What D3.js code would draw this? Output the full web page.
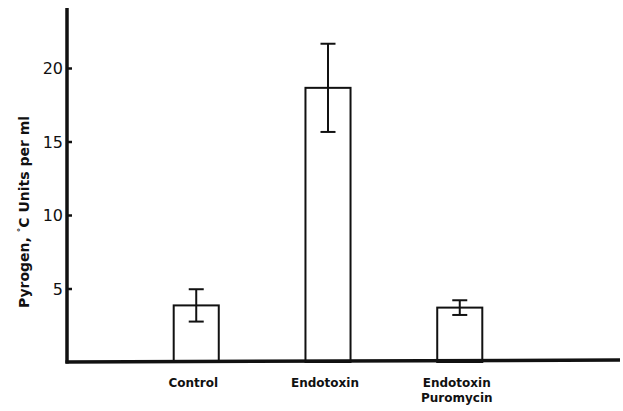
<!DOCTYPE html>
<html>
<head>
<meta charset="utf-8">
<style>
  body { margin: 0; background: #fff; }
  svg { display: block; }
  text { font-family: "DejaVu Sans", sans-serif; font-weight: bold; fill: #111; }
</style>
<script src="https://cdnjs.cloudflare.com/ajax/libs/d3/7.8.5/d3.min.js"></script>
</head>
<body>
<svg id="chart"></svg>
<script>
// values
let categories = ["Control", "Endotoxin", "Endotoxin\nPuromycin"]
let means = [3.85, 18.65, 3.7]
let errors = [1.1, 3.0, 0.5]
let yTicks = [5, 10, 15, 20]

let width = 623, height = 411
let svg = d3.select("#chart").attr("width", width).attr("height", height)

let x0 = 67, x1 = 620, yZero = 362

let y = d3.scaleLinear().domain([0, 20]).range([yZero, 68])
let x = d3.scaleBand().domain(categories).range([87, 569]).padding(0.658)

// bars
let bars = svg.append("g")
bars.selectAll("rect").data(means).enter().append("rect")
  .attr("x", (d, i) => x(categories[i]))
  .attr("y", d => y(d))
  .attr("width", x.bandwidth())
  .attr("height", d => yZero - y(d))
  .attr("fill", "#fff")
  .attr("stroke", "#111")
  .attr("stroke-width", 2)

// error bars
let capW = 15
let eb = svg.append("g").attr("stroke", "#111").attr("stroke-width", 2)
means.forEach((m, i) => {
  let cx = x(categories[i]) + x.bandwidth() / 2
  eb.append("line").attr("x1", cx).attr("x2", cx).attr("y1", y(m + errors[i])).attr("y2", y(m - errors[i]))
  eb.append("line").attr("x1", cx - capW / 2).attr("x2", cx + capW / 2).attr("y1", y(m + errors[i])).attr("y2", y(m + errors[i]))
  eb.append("line").attr("x1", cx - capW / 2).attr("x2", cx + capW / 2).attr("y1", y(m - errors[i])).attr("y2", y(m - errors[i]))
})

// y axis
let yAxis = d3.axisRight(y).tickValues(yTicks).tickSize(5).tickFormat(d3.format("d"))
let gy = svg.append("g").attr("transform", "translate(" + x0 + ",0)").call(yAxis)
gy.select(".domain").remove()
gy.selectAll(".tick line").attr("stroke", "#111").attr("stroke-width", 2.5)
gy.selectAll(".tick text")
  .attr("x", -4).attr("text-anchor", "end")
  .style("font-size", "16px").style("font-weight", "normal").attr("dy", "0.35em")

svg.append("line").attr("x1", x0).attr("x2", x0).attr("y1", 8).attr("y2", yZero + 1.5)
  .attr("stroke", "#111").attr("stroke-width", 3.5)

// x axis
svg.append("line").attr("x1", x0 - 1.5).attr("x2", x1).attr("y1", yZero).attr("y2", yZero - 2)
  .attr("stroke", "#111").attr("stroke-width", 3.5)

// category labels, one text per line
let labels = svg.append("g")
categories.forEach((c, i) => {
  let cx = x(c) + x.bandwidth() / 2 - 3
  c.split("\n").forEach((s, j) => {
    labels.append("text").attr("x", cx).attr("y", 387 + j * 14.5)
      .attr("text-anchor", "middle").style("font-size", "12px").text(s)
  })
})

// y label
let yl = svg.append("text")
  .attr("transform", "translate(29,212) rotate(-90)")
  .attr("text-anchor", "middle")
  .style("font-size", "14px")
yl.append("tspan").text("Pyrogen, ")
yl.append("tspan").attr("dy", -5).style("font-size", "9px").text("°")
yl.append("tspan").attr("dy", 5).text("C Units per ml")
</script>
</body>
</html>
